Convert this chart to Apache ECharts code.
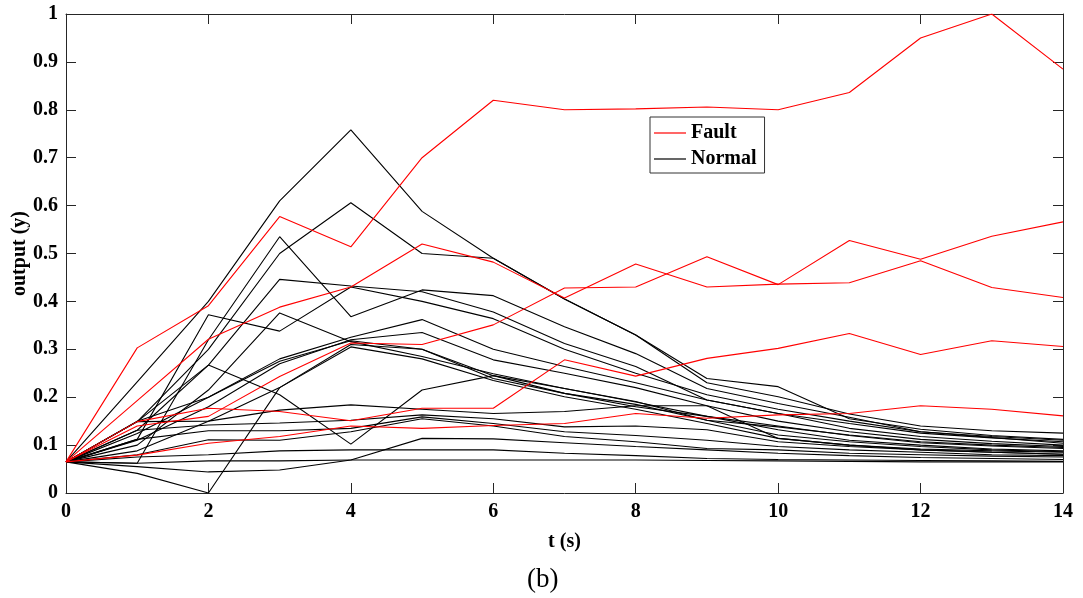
<!DOCTYPE html>
<html>
<head>
<meta charset="utf-8">
<script src="https://cdn.jsdelivr.net/npm/echarts@6/dist/echarts.min.js"></script>
<style>
html,body{margin:0;padding:0;background:#fff;}
#chart{width:1083px;height:598px;}
</style>
</head>
<body>
<div id="chart"></div>
<script>
// time axis (s)
const T = [0,1,2,3,4,5,6,7,8,9,10,11,12,13,14];
const xTicks = [0,2,4,6,8,10,12,14];

// Fault responses
const fault1 = [0.065,0.303,0.391,0.577,0.514,0.700,0.820,0.800,0.802,0.806,0.800,0.836,0.950,1.000,0.885];
const fault2 = [0.065,0.193,0.321,0.388,0.430,0.520,0.482,0.407,0.478,0.430,0.436,0.439,0.485,0.429,0.408];
const fault3 = [0.065,0.140,0.160,0.243,0.313,0.310,0.351,0.428,0.430,0.493,0.435,0.527,0.488,0.536,0.566];
const fault4 = [0.065,0.149,0.177,0.170,0.151,0.177,0.177,0.278,0.244,0.281,0.302,0.333,0.289,0.318,0.306];
const fault5 = [0.065,0.079,0.104,0.118,0.140,0.135,0.141,0.145,0.166,0.156,0.163,0.166,0.182,0.175,0.161];

// Normal responses
const normal1  = [0.065,0.232,0.400,0.610,0.758,0.588,0.490,0.405,0.330,0.239,0.222,0.155,0.133,0.120,0.112];
const normal2  = [0.065,0.149,0.300,0.500,0.606,0.500,0.490,0.405,0.330,0.230,0.201,0.165,0.140,0.130,0.125];
const normal3  = [0.065,0.062,0.320,0.535,0.368,0.424,0.412,0.347,0.291,0.218,0.187,0.158,0.128,0.118,0.110];
const normal4  = [0.065,0.131,0.267,0.446,0.432,0.420,0.378,0.312,0.264,0.194,0.166,0.145,0.125,0.115,0.107];
const normal5  = [0.065,0.112,0.372,0.338,0.430,0.400,0.364,0.300,0.250,0.205,0.175,0.150,0.128,0.116,0.104];
const normal6  = [0.065,0.149,0.267,0.205,0.102,0.215,0.245,0.218,0.191,0.152,0.138,0.121,0.107,0.100,0.095];
const normal7  = [0.065,0.100,0.215,0.376,0.316,0.285,0.249,0.218,0.190,0.160,0.132,0.110,0.100,0.092,0.088];
const normal8  = [0.065,0.124,0.200,0.280,0.325,0.362,0.300,0.264,0.230,0.194,0.166,0.135,0.118,0.108,0.100];
const normal9  = [0.065,0.110,0.180,0.270,0.320,0.335,0.278,0.250,0.220,0.182,0.150,0.128,0.112,0.103,0.097];
const normal10 = [0.065,0.088,0.150,0.220,0.310,0.300,0.239,0.208,0.185,0.152,0.121,0.107,0.097,0.090,0.086];
const normal11 = [0.065,0.041,0.000,0.220,0.305,0.280,0.235,0.201,0.175,0.145,0.114,0.100,0.090,0.085,0.081];
const normal12 = [0.065,0.150,0.200,0.275,0.318,0.300,0.245,0.208,0.180,0.160,0.140,0.120,0.105,0.098,0.093];
const normal13 = [0.065,0.149,0.150,0.173,0.184,0.175,0.166,0.170,0.182,0.182,0.114,0.100,0.092,0.088,0.085];
const normal14 = [0.065,0.131,0.142,0.146,0.152,0.163,0.155,0.138,0.140,0.132,0.107,0.097,0.090,0.085,0.081];
const normal15 = [0.065,0.112,0.130,0.130,0.135,0.159,0.145,0.128,0.120,0.110,0.097,0.090,0.085,0.080,0.078];
const normal16 = [0.065,0.080,0.111,0.110,0.128,0.155,0.140,0.118,0.107,0.093,0.090,0.083,0.080,0.077,0.075];
const normal17 = [0.065,0.075,0.080,0.088,0.090,0.090,0.090,0.083,0.078,0.072,0.070,0.069,0.068,0.067,0.066];
const normal18 = [0.065,0.062,0.067,0.067,0.069,0.069,0.069,0.069,0.069,0.068,0.067,0.066,0.065,0.065,0.065];
const normal19 = [0.065,0.055,0.044,0.048,0.069,0.114,0.113,0.105,0.097,0.090,0.083,0.078,0.074,0.072,0.070];

const faultSeries = [fault1,fault2,fault3,fault4,fault5];
const normalSeries = [normal1,normal2,normal3,normal4,normal5,normal6,normal7,normal8,normal9,normal10,
  normal11,normal12,normal13,normal14,normal15,normal16,normal17,normal18,normal19];

const FONT = 'Liberation Serif';
const AXC = '#262626';

function mk(name, color, ys) {
  return {
    name: name, type: 'line', xAxisIndex: 0, yAxisIndex: 0,
    data: T.map((t, i) => [t, ys[i]]),
    showSymbol: false, symbol: 'none',
    color: color,
    lineStyle: { color: color, width: 1.1 },
    emphasis: { disabled: true },
    silent: true
  };
}

const series = [];
normalSeries.forEach(s => series.push(mk('Normal', '#000000', s)));
faultSeries.forEach(s => series.push(mk('Fault', '#ff0000', s)));

const chart = echarts.init(document.getElementById('chart'), null, { renderer: 'canvas' });
chart.setOption({
  animation: false,
  backgroundColor: '#ffffff',
  title: {
    text: '(b)', left: 522, top: 561,
    textStyle: { fontFamily: FONT, fontWeight: 'normal', fontSize: 27, color: '#000' }
  },
  legend: {
    data: ['Fault', 'Normal'],
    orient: 'vertical', left: 650, top: 117,
    icon: 'rect', itemWidth: 32, itemHeight: 1.2, itemGap: 6,
    padding: [6, 8, 4, 4],
    borderColor: '#333', borderWidth: 1, backgroundColor: '#fff',
    textStyle: { fontFamily: FONT, fontWeight: 'bold', fontSize: 20, color: '#000' },
    selectedMode: false
  },
  grid: { left: 66, right: 20, top: 14, bottom: 105, containLabel: false, outerBoundsMode: 'none' },
  xAxis: [{
    type: 'value', min: 0, max: 14, interval: 2, position: 'bottom',
    name: 't (s)', nameLocation: 'middle', nameGap: 39,
    nameTextStyle: { fontFamily: FONT, fontWeight: 'bold', fontSize: 20, color: '#000' },
    axisLine: { show: true, onZero: false, lineStyle: { color: AXC, width: 1 } },
    axisTick: { show: true, inside: true, length: 10, lineStyle: { color: AXC } },
    axisLabel: { fontFamily: FONT, fontWeight: 'bold', fontSize: 20, color: '#000', margin: 9,
      customValues: xTicks },
    splitLine: { show: false }
  }, {
    type: 'value', min: 0, max: 14, interval: 2, position: 'top',
    axisLine: { show: true, onZero: false, lineStyle: { color: AXC, width: 1 } },
    axisTick: { show: true, inside: true, length: 10, lineStyle: { color: AXC } },
    axisLabel: { show: false }, splitLine: { show: false }
  }],
  yAxis: [{
    type: 'value', min: 0, max: 1, interval: 0.1, position: 'left',
    name: 'output (y)', nameLocation: 'middle', nameGap: 36, nameMoveOverlap: false,
    nameTextStyle: { fontFamily: FONT, fontWeight: 'bold', fontSize: 20, color: '#000' },
    axisLine: { show: true, onZero: false, lineStyle: { color: AXC, width: 1 } },
    axisTick: { show: true, inside: true, length: 10, lineStyle: { color: AXC } },
    axisLabel: { fontFamily: FONT, fontWeight: 'bold', fontSize: 20, color: '#000', margin: 8,
      formatter: v => String(+v.toFixed(1)) },
    splitLine: { show: false }
  }, {
    type: 'value', min: 0, max: 1, interval: 0.1, position: 'right',
    axisLine: { show: true, onZero: false, lineStyle: { color: AXC, width: 1 } },
    axisTick: { show: true, inside: true, length: 10, lineStyle: { color: AXC } },
    axisLabel: { show: false }, splitLine: { show: false }
  }],
  series: series
});
</script>
</body>
</html>
